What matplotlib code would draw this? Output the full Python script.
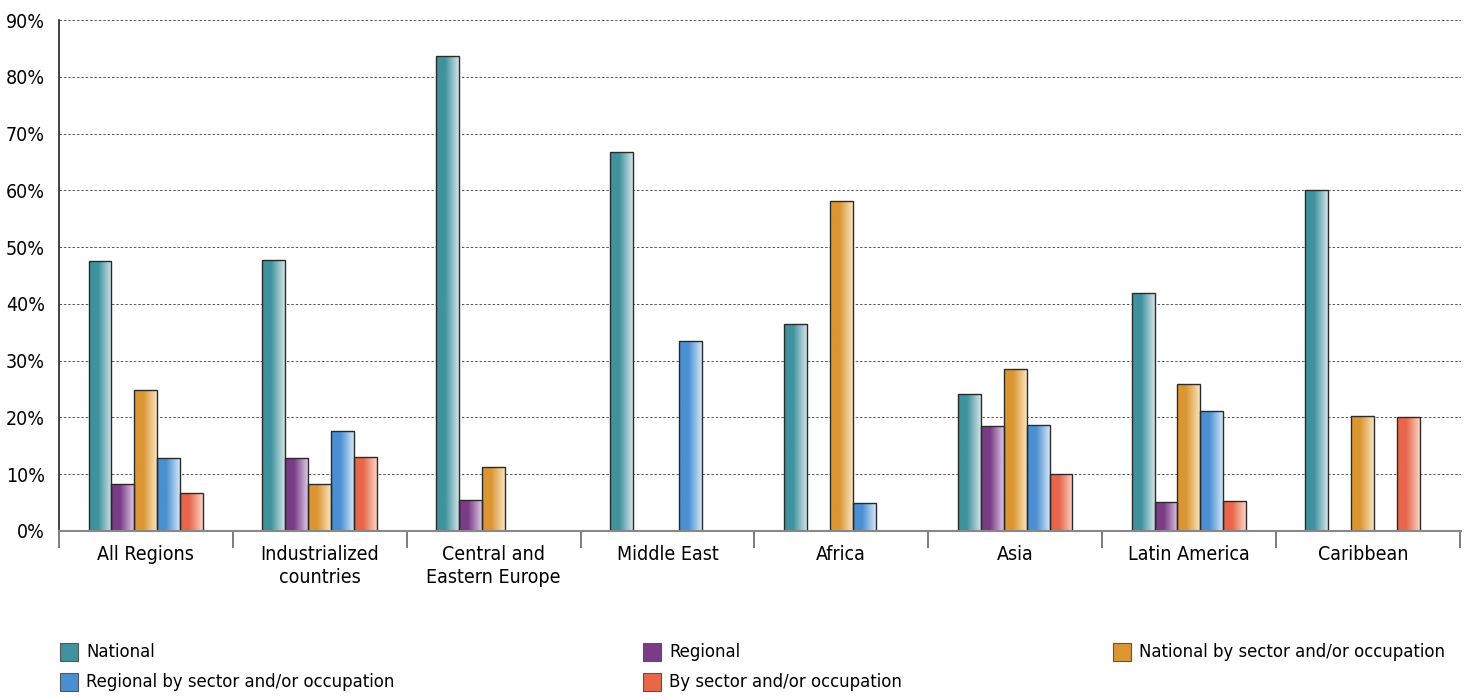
import numpy as np
import matplotlib
matplotlib.use("Agg")
import matplotlib.pyplot as plt
from matplotlib.patches import Rectangle
from matplotlib.colors import to_rgb

plt.rcParams['font.family'] = ['DejaVu Sans']
plt.rcParams['font.stretch'] = 'condensed'

regions = ['All Regions', 'Industrialized\ncountries', 'Central and\nEastern Europe',
           'Middle East', 'Africa', 'Asia', 'Latin America', 'Caribbean']
series = ['National', 'Regional', 'National by sector and/or occupation',
          'Regional by sector and/or occupation', 'By sector and/or occupation']

national = [47.5, 47.7, 83.7, 66.7, 36.4, 24.2, 42.0, 60.1]
regional = [8.2, 12.8, 5.5, 0, 0, 18.5, 5.1, 0]
national_sector = [24.8, 8.2, 11.3, 0, 58.1, 28.6, 25.9, 20.3]
regional_sector = [12.8, 17.6, 0, 33.4, 5.0, 18.6, 21.2, 0]
by_sector = [6.7, 13.0, 0, 0, 0, 10.1, 5.2, 20.1]
values = [national, regional, national_sector, regional_sector, by_sector]

dark = ['#3F929E', '#7A3C86', '#DB9632', '#4A8FD3', '#E8664A']
light = ['#D2E4E7', '#DCC6E1', '#F8E3BE', '#D2E5F7', '#FAD3C4']


def gradient(c1, c2, n=64):
    a, b = np.array(to_rgb(c1)), np.array(to_rgb(c2))
    t = np.linspace(0, 1, n)
    t = np.clip((t - 0.4) / 0.6, 0, 1)
    return (a[None, :] * (1 - t[:, None]) + b[None, :] * t[:, None])[None, :, :]


fig = plt.figure(figsize=(14.67, 6.99), dpi=100)
ax = fig.add_axes([59 / 1467, 1 - 531 / 699, 1402 / 1467, 511 / 699])

x = np.arange(len(regions))
w = 0.132
for i, vals in enumerate(values):
    pos = x + (i - 2) * w
    bars = ax.bar(pos, vals, w, facecolor='none', edgecolor='#2a2a2a',
                  linewidth=1.0, zorder=4)
    img = gradient(dark[i], light[i])
    for b, v in zip(bars, vals):
        if v <= 0:
            b.set_visible(False)
            continue
        bx = b.get_x()
        im = ax.imshow(img, extent=[bx, bx + w, 0, v], aspect='auto',
                       zorder=3, interpolation='bilinear')
        im.set_clip_path(b)

ax.set_xlim(-0.5, 7.565)
ax.set_ylim(0, 90)
ax.set_yticks(np.arange(0, 91, 10))
ax.set_yticklabels([f'{v}%' for v in range(0, 91, 10)], fontsize=14)
ax.set_xticks(x)
ax.set_xticklabels(regions, fontsize=14, linespacing=1.3)
ax.set_xticks(list(np.arange(-0.5, 7, 1.0)) + [7.56], minor=True)
ax.tick_params(axis='x', which='major', length=0, pad=10)
ax.tick_params(axis='x', which='minor', length=12, color='#666', width=1.2)
ax.tick_params(axis='y', length=0, pad=10)
ax.yaxis.grid(True, linestyle=(0, (2.5, 2)), color='#555', linewidth=0.7)
ax.set_axisbelow(True)
for s in ['top', 'right']:
    ax.spines[s].set_visible(False)
ax.spines['bottom'].set_color('#888')
ax.spines['bottom'].set_linewidth(1.5)
ax.spines['bottom'].set_zorder(5)
ax.spines['left'].set_color('#222')
ax.spines['left'].set_linewidth(1.2)

# legend laid out like the original: three columns, two rows
leg_x = [60, 643, 1113]
leg_y = [652, 682]
for k, name in enumerate(series):
    px = leg_x[k % 3]
    py = leg_y[k // 3]
    fig.patches.append(Rectangle((px / 1467, 1 - (py + 9) / 699), 18 / 1467, 18 / 699,
                                 transform=fig.transFigure, facecolor=dark[k],
                                 edgecolor='#555', linewidth=0.8))
    fig.text((px + 26) / 1467, 1 - py / 699, name, fontsize=13.2, va='center', ha='left')

fig.savefig('out.png', dpi=100)
